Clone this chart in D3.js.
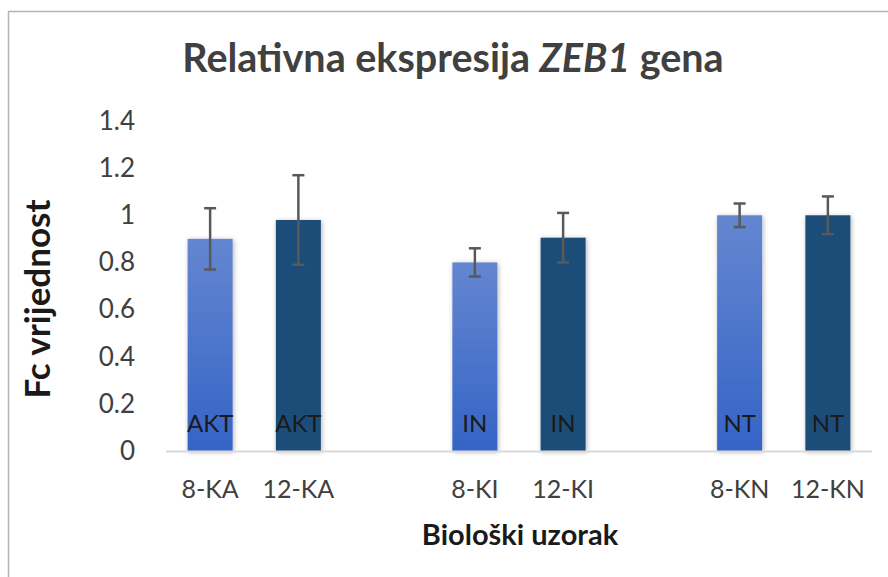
<!DOCTYPE html>
<html>
<head>
<meta charset="utf-8">
<script src="https://cdn.jsdelivr.net/npm/d3@7/dist/d3.min.js"></script>
<style>
  html, body { margin: 0; padding: 0; background: #fff; }
  svg { display: block; font-family: Lato, "Open Sans", sans-serif; }
</style>
</head>
<body>
<svg id="chart" width="888" height="577"></svg>
<script>
// Sample groups and time points
const groups = ["KA", "KI", "KN"];
const series = ["8", "12"];
const barLabels = ["AKT", "IN", "NT"];

// Fold-change means and error magnitudes per time point
const values8 = [0.90, 0.80, 1.00];
const values12 = [0.98, 0.905, 1.00];
const errors8 = [0.13, 0.06, 0.05];
const errors12 = [0.19, 0.105, 0.08];

const yTicks = [0, 0.2, 0.4, 0.6, 0.8, 1, 1.2, 1.4];

const rows = [];
groups.forEach((g, i) => {
  rows.push({ group: g, s: "8", label: "8-" + g, tag: barLabels[i], value: values8[i], err: errors8[i] });
  rows.push({ group: g, s: "12", label: "12-" + g, tag: barLabels[i], value: values12[i], err: errors12[i] });
});

const svg = d3.select("#chart");
const W = 888, H = 577;

// Outer frame
svg.append("path")
  .attr("d", `M8.5,${H} V11.5 H${W}`)
  .attr("fill", "none")
  .attr("stroke", "#b3b3b3")
  .attr("stroke-width", 1.5);

const plot = { left: 166, right: 872, top: 121, bottom: 451 };

const x0 = d3.scaleBand().domain(groups)
  .range([plot.left, plot.right])
  .paddingInner(1 / 3).paddingOuter(0);
const x1 = d3.scaleBand().domain(series)
  .range([0, x0.bandwidth()])
  .paddingInner(0.49).paddingOuter(0.245);
const y = d3.scaleLinear().domain([0, 1.4]).range([plot.bottom, plot.top]);

const defs = svg.append("defs");
const grad = defs.append("linearGradient")
  .attr("id", "lightBar").attr("x1", 0).attr("y1", 0).attr("x2", 0).attr("y2", 1);
grad.append("stop").attr("offset", "0%").attr("stop-color", "#6486d0");
grad.append("stop").attr("offset", "100%").attr("stop-color", "#3564c6");

const shadow = defs.append("filter").attr("id", "barShadow")
  .attr("x", "-30%").attr("y", "-10%").attr("width", "160%").attr("height", "120%");
shadow.append("feDropShadow")
  .attr("dx", 1).attr("dy", 1).attr("stdDeviation", 2.5)
  .attr("flood-color", "#000").attr("flood-opacity", 0.3);

// Y axis labels (no axis line)
const yAxis = svg.append("g")
  .attr("transform", `translate(${plot.left},0)`)
  .call(d3.axisLeft(y).tickValues(yTicks).tickSize(0).tickPadding(31)
    .tickFormat(d => d3.format("~g")(d)));
yAxis.select(".domain").remove();
yAxis.selectAll("text")
  .attr("fill", "#404040")
  .style("font-size", "26px")
  .style("font-family", "Lato, sans-serif");

// Bars
const bars = svg.append("g");
bars.selectAll("rect").data(rows).join("rect")
  .attr("x", d => x0(d.group) + x1(d.s))
  .attr("y", d => y(d.value))
  .attr("width", x1.bandwidth())
  .attr("height", d => y(0) - y(d.value))
  .attr("fill", d => d.s === "8" ? "url(#lightBar)" : "#1f4e79")
  .attr("filter", "url(#barShadow)");

// X axis baseline
svg.append("line")
  .attr("x1", plot.left).attr("x2", plot.right)
  .attr("y1", y(0) + 0.5).attr("y2", y(0) + 0.5)
  .attr("stroke", "#d9d9d9").attr("stroke-width", 2);

// Labels inside bars
svg.append("g").selectAll("text").data(rows).join("text")
  .attr("x", d => x0(d.group) + x1(d.s) + x1.bandwidth() / 2)
  .attr("y", 432)
  .attr("text-anchor", "middle")
  .attr("fill", "#1a1a1a")
  .style("font-size", "24px")
  .text(d => d.tag);

// Error bars
const eb = svg.append("g").attr("stroke", "#595959").attr("stroke-width", 2.5).attr("fill", "none");
rows.forEach(d => {
  const cx = x0(d.group) + x1(d.s) + x1.bandwidth() / 2;
  const yt = y(d.value + d.err), yb = y(d.value - d.err);
  eb.append("line").attr("x1", cx).attr("x2", cx).attr("y1", yt).attr("y2", yb);
  eb.append("line").attr("x1", cx - 6).attr("x2", cx + 6).attr("y1", yt).attr("y2", yt);
  eb.append("line").attr("x1", cx - 6).attr("x2", cx + 6).attr("y1", yb).attr("y2", yb);
});

// Category labels
svg.append("g").selectAll("text").data(rows).join("text")
  .attr("x", d => x0(d.group) + x1(d.s) + x1.bandwidth() / 2)
  .attr("y", 498)
  .attr("text-anchor", "middle")
  .attr("fill", "#404040")
  .style("font-size", "25px")
  .text(d => d.label);

// Title
const title = svg.append("text")
  .attr("x", 453).attr("y", 72)
  .attr("text-anchor", "middle")
  .attr("fill", "#404040")
  .style("font-size", "39.5px")
  .style("font-weight", "bold");
title.append("tspan").text("Relativna ekspresija ");
title.append("tspan").style("font-style", "italic").text("ZEB1");
title.append("tspan").text(" gena");

// Axis titles
svg.append("text")
  .attr("transform", "translate(50,299) rotate(-90)")
  .attr("text-anchor", "middle")
  .attr("fill", "#1a1a1a")
  .style("font-size", "35px")
  .style("font-weight", "bold")
  .text("Fc vrijednost");

svg.append("text")
  .attr("x", 520).attr("y", 545)
  .attr("text-anchor", "middle")
  .attr("fill", "#1a1a1a")
  .style("font-size", "29px")
  .style("font-weight", "bold")
  .text("Biološki uzorak");
</script>
</body>
</html>
